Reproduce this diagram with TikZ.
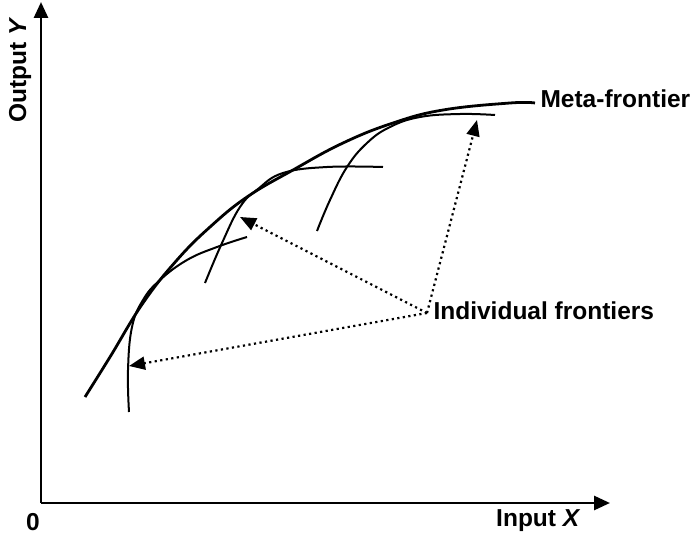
\documentclass[tikz,border=0pt]{standalone}
\usepackage{fontspec}
\setmainfont{Liberation Sans}
\usetikzlibrary{arrows.meta,positioning}

\begin{document}
\begin{tikzpicture}[
        x=1pt, y=-1pt,
        font=\fontsize{24.5}{29}\selectfont\bfseries,
        axis/.style={line width=2.8pt, -{Triangle[length=16pt,width=14pt]}},
        meta/.style={line width=2.8pt},
        indiv/.style={line width=2pt},
        pointer/.style={line width=2.2pt, dash pattern=on 2.2pt off 3.4pt, -{Triangle[length=16pt,width=13pt]}},
    ]
    \useasboundingbox (0,0) rectangle (691,535);
    % axes
    \coordinate (origin) at (41,503);
    \coordinate (ytop) at (41,2);
    \coordinate (xend) at (610,503);
    \draw[axis] (origin) -- (ytop);
    \draw[axis] (origin) -- (xend);
    \node (zero) at (33,522) {0};
    \node[anchor=east] (xlab) at (584,521) {Input \textit{X}};
    \node[rotate=90] (ylab) at (20,70) {Output \textit{Y}};
    % meta-frontier
    \draw[meta] plot[smooth, tension=0.7] coordinates {(85,397) (110,357) (143,303) (177,260) (210,227) (247,197) (293,170) (343,143) (393,123) (443,110) (510,103) (535,103)};
    \node[anchor=west] (metalab) at (537,99) {Meta-frontier};
    % individual frontiers
    \draw[indiv] plot[smooth, tension=0.7] coordinates {(129,412) (128,370) (132,327) (143,300) (160,280) (187,260) (217,247) (247,237)};
    \draw[indiv] plot[smooth, tension=0.7] coordinates {(205,283) (222,243) (240,207) (258,189) (283,173) (327,167) (383,167)};
    \draw[indiv] plot[smooth, tension=0.7] coordinates {(317,231) (330,200) (347,167) (367,143) (390,127) (420,117) (460,114) (495,115)};
    % pointers
    \coordinate (hub) at (427,313);
    \node[anchor=west] (indlab) at (430,311) {Individual frontiers};
    \coordinate (f1) at (129,366);
    \coordinate (f2) at (240,217);
    \coordinate (f3) at (477,120);
    \draw[pointer] (hub) -- (f1);
    \draw[pointer] (hub) -- (f2);
    \draw[pointer] (hub) -- (f3);
\end{tikzpicture}
\end{document}
